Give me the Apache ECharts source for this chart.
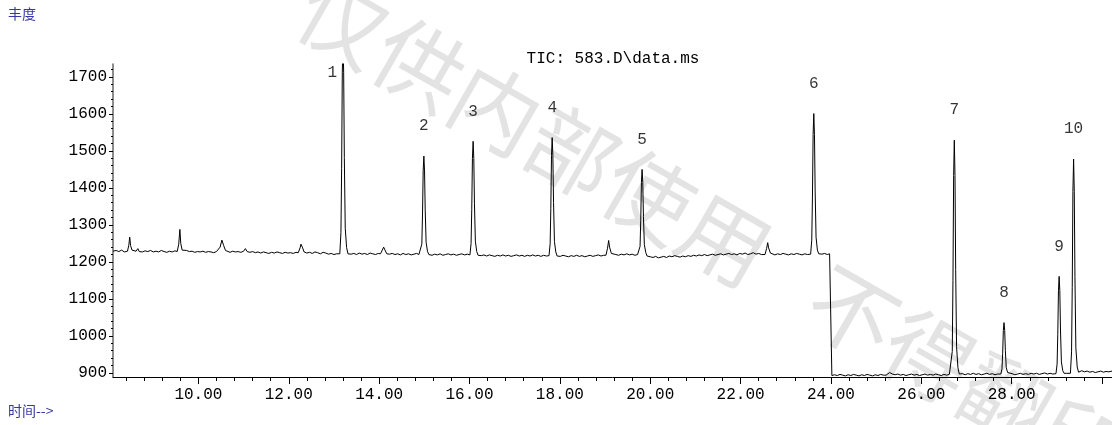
<!DOCTYPE html>
<html>
<head>
<meta charset="utf-8">
<title>TIC: 583.D\data.ms</title>
<script src="https://cdn.jsdelivr.net/npm/echarts@6/dist/echarts.min.js"></script>
<style>
html, body { margin: 0; padding: 0; background: #fff; }
#chart { width: 1112px; height: 425px; }
</style>
</head>
<body>
<div id="chart"></div>
<script>
// TIC 色谱图: [时间 min, 丰度]
const ticBefore = [
  [8.11,1229],[8.18,1231],[8.24,1228],[8.30,1232],[8.36,1227],[8.40,1230],
  [8.43,1229],[8.46,1245],[8.48,1267],[8.50,1244],[8.53,1232],[8.56,1228],
  [8.62,1229],[8.66,1236],[8.69,1228],[8.73,1233],[8.76,1227],
  [8.82,1230],[8.88,1228],[8.94,1231],[9.00,1227],[9.06,1229],[9.12,1227],[9.18,1231],[9.24,1228],[9.30,1226],[9.36,1229],[9.42,1227],[9.48,1230],
  [9.53,1228],[9.565,1248],[9.59,1288],[9.61,1250],[9.64,1232],[9.68,1229],
  [9.74,1231],[9.80,1228],[9.86,1229],[9.92,1226],[9.98,1228],[10.04,1227],[10.10,1229],[10.16,1226],[10.22,1228],[10.28,1227],[10.34,1225],[10.40,1228],
  [10.43,1227],[10.48,1240],[10.52,1259],[10.56,1244],[10.60,1231],[10.64,1229],
  [10.70,1226],[10.76,1229],[10.82,1227],[10.88,1228],[10.94,1226],
  [11.00,1229],[11.04,1236],[11.08,1228],
  [11.14,1226],[11.20,1228],[11.26,1225],[11.32,1227],[11.38,1224],[11.44,1227],[11.50,1225],[11.56,1223],[11.62,1226],[11.68,1224],[11.74,1227],[11.80,1225],[11.86,1223],[11.92,1226],[11.98,1224],[12.04,1225],[12.10,1223],[12.16,1226],
  [12.21,1225],[12.25,1238],[12.27,1248],[12.30,1240],[12.34,1227],
  [12.40,1224],[12.46,1226],[12.52,1223],[12.58,1227],[12.64,1225],[12.70,1222],[12.76,1226],[12.82,1224],[12.88,1221],[12.94,1223],[13.00,1220],[13.06,1222],
  [13.13,1222],[13.155,1280],[13.17,1453],[13.185,1713],[13.20,1800],[13.215,1713],[13.23,1482],[13.25,1291],[13.28,1239],[13.31,1222],
  [13.38,1221],[13.44,1223],[13.50,1220],[13.56,1224],[13.62,1221],[13.68,1223],[13.74,1220],[13.80,1224],[13.86,1222],[13.92,1220],[13.98,1223],
  [14.03,1222],[14.07,1232],[14.10,1240],[14.13,1232],[14.17,1222],
  [14.23,1221],[14.29,1223],[14.35,1220],[14.41,1222],[14.47,1219],[14.53,1223],[14.59,1220],[14.65,1222],[14.71,1219],[14.77,1221],[14.83,1223],[14.88,1220],
  [14.92,1221],[14.945,1248],[14.96,1327],[14.975,1446],[14.99,1486],[15.005,1446],[15.02,1340],[15.04,1253],[15.07,1229],[15.10,1220],
  [15.17,1218],[15.23,1221],[15.29,1219],[15.35,1222],[15.41,1218],[15.47,1220],[15.53,1222],[15.59,1219],[15.65,1221],[15.71,1218],[15.77,1220],[15.83,1222],[15.89,1219],[15.95,1221],[15.98,1220],
  [16.01,1219],[16.035,1250],[16.05,1342],[16.065,1480],[16.08,1526],[16.095,1480],[16.11,1357],[16.13,1256],[16.16,1228],[16.19,1218],
  [16.26,1217],[16.32,1219],[16.38,1216],[16.44,1219],[16.50,1217],[16.56,1215],[16.62,1218],[16.68,1216],[16.74,1219],[16.80,1216],[16.86,1218],[16.92,1215],[16.98,1217],[17.04,1219],[17.10,1216],[17.16,1218],[17.22,1215],[17.28,1218],[17.34,1216],[17.40,1219],[17.46,1216],[17.52,1218],[17.58,1215],[17.64,1218],[17.70,1216],[17.73,1218],
  [17.76,1217],[17.785,1249],[17.80,1345],[17.815,1488],[17.83,1536],[17.845,1488],[17.86,1361],[17.88,1255],[17.91,1227],[17.94,1216],
  [18.01,1215],[18.07,1218],[18.13,1216],[18.19,1214],[18.25,1217],[18.31,1215],[18.37,1218],[18.43,1215],[18.49,1217],[18.55,1214],[18.61,1216],[18.67,1218],[18.73,1215],[18.79,1217],[18.85,1219],[18.91,1216],[18.97,1218],
  [19.02,1218],[19.055,1237],[19.08,1258],[19.10,1240],[19.14,1223],[19.18,1219],
  [19.24,1220],[19.30,1218],[19.36,1221],[19.42,1219],[19.48,1222],[19.54,1219],[19.60,1221],[19.66,1218],[19.72,1220],
  [19.75,1219],[19.775,1242],[19.79,1311],[19.805,1415],[19.82,1450],[19.835,1415],[19.85,1323],[19.87,1247],[19.90,1226],[19.93,1216],
  [20.00,1214],[20.06,1212],[20.12,1215],[20.18,1211],[20.24,1213],[20.30,1215],[20.36,1212],[20.42,1216],[20.48,1214],[20.54,1217],[20.60,1215],[20.66,1213],[20.72,1216],[20.78,1214],[20.84,1217],[20.90,1215],[20.96,1218],
  [21.02,1216],[21.08,1219],[21.14,1217],[21.20,1220],[21.26,1217],[21.32,1219],[21.38,1221],[21.44,1218],[21.50,1220],[21.56,1222],[21.62,1219],[21.68,1221],[21.74,1223],[21.80,1220],[21.86,1222],[21.92,1219],[21.98,1223],
  [22.04,1221],[22.10,1224],[22.16,1220],[22.22,1222],[22.28,1225],[22.34,1221],[22.40,1223],[22.46,1220],[22.50,1222],
  [22.54,1220],[22.575,1236],[22.60,1252],[22.62,1238],[22.66,1224],[22.70,1221],
  [22.76,1219],[22.82,1222],[22.88,1220],[22.94,1223],[23.00,1221],[23.06,1219],[23.12,1222],[23.18,1220],[23.24,1223],[23.30,1221],[23.36,1219],[23.42,1222],[23.48,1220],[23.52,1222],
  [23.55,1221],[23.575,1259],[23.59,1373],[23.605,1544],[23.62,1601],[23.635,1544],[23.65,1392],[23.67,1267],[23.70,1232],[23.73,1222],
  [23.80,1221],[23.86,1223],[23.92,1220],[23.97,1222],[24.01,1221]
]
const ticAfter = [
  [24.02,893],[24.08,895],[24.14,893],[24.20,896],[24.26,894],[24.32,892],[24.38,895],[24.44,893],[24.50,896],[24.56,894],[24.62,892],[24.68,895],[24.74,893],[24.80,896],[24.86,894],[24.92,892],[24.98,895],[25.04,893],[25.10,896],[25.16,894],
  [25.22,894],[25.26,899],[25.30,901],[25.36,897],
  [25.42,895],[25.48,897],[25.54,894],[25.60,896],[25.66,893],[25.72,895],[25.78,897],[25.84,894],[25.90,896],[25.96,893],[26.02,895],[26.08,897],[26.14,894],[26.20,896],[26.26,894],[26.32,897],[26.38,895],[26.44,893],[26.50,896],[26.56,894],[26.62,896],
  [26.66,895],[26.685,958],[26.70,1149],[26.715,1434],[26.73,1529],[26.745,1434],[26.76,1180],[26.78,971],[26.81,914],[26.84,897],
  [26.91,898],[26.97,895],[27.03,898],[27.09,896],[27.15,899],[27.21,896],[27.27,898],[27.33,895],[27.39,897],[27.45,899],[27.51,896],[27.57,898],[27.63,895],[27.69,897],[27.73,896],
  [27.76,897],[27.785,911],[27.80,953],[27.815,1015],[27.83,1036],[27.845,1015],[27.86,960],[27.88,914],[27.91,901],[27.94,896],
  [28.01,898],[28.07,895],[28.13,897],[28.19,899],[28.25,896],[28.31,898],[28.37,896],[28.43,899],[28.49,897],[28.55,899],[28.61,896],[28.67,898],[28.73,900],[28.79,897],[28.85,899],[28.91,897],[28.95,899],
  [28.98,898],[29.005,924],[29.02,1003],[29.035,1122],[29.05,1161],[29.065,1122],[29.08,1016],[29.10,930],[29.13,906],[29.16,899],
  [29.22,899],[29.26,900],
  [29.30,899],[29.325,957],[29.34,1131],[29.355,1391],[29.37,1478],[29.385,1391],[29.40,1160],[29.42,968],[29.45,916],[29.48,902],
  [29.55,906],[29.61,903],[29.67,905],[29.73,902],[29.79,904],[29.85,901],[29.91,903],[29.97,905],[30.03,902],[30.09,904],[30.15,903],[30.22,905]
]

// 峰号
const peakNo = ['1', '2', '3', '4', '5', '6', '7', '8', '9', '10']
const peakTime = [13.20, 14.99, 16.08, 17.83, 19.82, 23.62, 26.73, 27.83, 29.05, 29.37]
const peakTop = [1800, 1486, 1526, 1536, 1450, 1601, 1529, 1036, 1161, 1478]

// 坐标轴
const xMin = 8.11
const xMax = 30.22
const yMin = 889
const yMax = 1735
const xLabels = [10, 12, 14, 16, 18, 20, 22, 24, 26, 28]
const xMajor = [10, 12, 14, 16, 18, 20, 22, 24, 26, 28, 30]
const yLabels = [900, 1000, 1100, 1200, 1300, 1400, 1500, 1600, 1700]

const xMinor = []
for (let i = 21; i * 0.4 <= xMax; i++) {
  if (i % 5 !== 0) xMinor.push(Math.round(i * 4) / 10)
}
const yMinor = []
for (let v = 920; v < yMax; v += 20) {
  if (v % 100 !== 0) yMinor.push(v)
}

const FONT = 'Liberation Mono'
const BLUE = '#3636a8'

const chart = echarts.init(document.getElementById('chart'))

const option = {
  animation: false,
  grid: { left: 113, right: 0, top: 64, bottom: 48 },
  graphic: [
    {
      // 水印
      type: 'text', x: 305, y: -1, rotation: -0.52, z: -10, silent: true,
      style: {
        text: '仅供内部使用   不得翻印',
        font: '88px "Noto Sans CJK SC"',
        fill: '#e3e3e3',
        textAlign: 'left', textVerticalAlign: 'middle'
      }
    },
    {
      type: 'text', x: 8, y: 14,
      style: { text: '丰度', font: '14px "Noto Sans CJK SC"', fill: BLUE, textVerticalAlign: 'middle' }
    },
    {
      type: 'text', x: 8, y: 411,
      style: { text: '时间-->', font: '14px "Noto Sans CJK SC"', fill: BLUE, textVerticalAlign: 'middle' }
    },
    {
      type: 'text', x: 613, y: 59,
      style: {
        text: 'TIC: 583.D\\data.ms', font: '16px "' + FONT + '"', fill: '#000',
        textAlign: 'center', textVerticalAlign: 'middle'
      }
    }
  ],
  xAxis: [
    {
      type: 'value', min: xMin, max: xMax, position: 'bottom',
      axisLine: { lineStyle: { color: '#000', width: 1 } },
      axisTick: { customValues: xMajor, length: 7, lineStyle: { color: '#000' } },
      axisLabel: {
        customValues: xLabels, margin: 10, color: '#000', fontFamily: FONT, fontSize: 16,
        formatter: v => v.toFixed(2)
      },
      splitLine: { show: false }
    },
    {
      type: 'value', min: xMin, max: xMax, position: 'bottom',
      axisLine: { show: false },
      axisTick: { customValues: xMinor, length: 4, lineStyle: { color: '#000' } },
      axisLabel: { show: false },
      splitLine: { show: false }
    }
  ],
  yAxis: [
    {
      type: 'value', min: yMin, max: yMax, position: 'left',
      axisLine: { show: true, lineStyle: { color: '#666', width: 1.5 } },
      axisTick: { show: true, customValues: yLabels, length: 4, lineStyle: { color: '#000' } },
      axisLabel: {
        customValues: yLabels, margin: 6, color: '#000', fontFamily: FONT, fontSize: 16,
        formatter: v => String(v)
      },
      splitLine: { show: false }
    },
    {
      type: 'value', min: yMin, max: yMax, position: 'left',
      axisLine: { show: false },
      axisTick: { show: true, customValues: yMinor, length: 2, lineStyle: { color: '#000' } },
      axisLabel: { show: false },
      splitLine: { show: false }
    }
  ],
  series: [
    {
      name: 'TIC',
      type: 'line',
      data: ticBefore.concat(ticAfter),
      symbol: 'none',
      lineStyle: { color: '#000', width: 1 },
      silent: true
    },
    {
      name: 'peak',
      type: 'scatter',
      symbolSize: 0,
      clip: false,
      silent: true,
      data: peakTime.map((t, i) => {
        const item = { value: [t, Math.min(peakTop[i], yMax)] }
        // 1号峰顶超出坐标范围, 标号放在左侧
        if (i === 0) item.label = { position: 'left', distance: 6, offset: [0, 9] }
        return item
      }),
      label: {
        show: true, position: 'top', distance: 22,
        color: '#000', fontFamily: FONT, fontSize: 16,
        formatter: p => peakNo[p.dataIndex]
      }
    }
  ]
}

chart.setOption(option)
</script>
</body>
</html>
